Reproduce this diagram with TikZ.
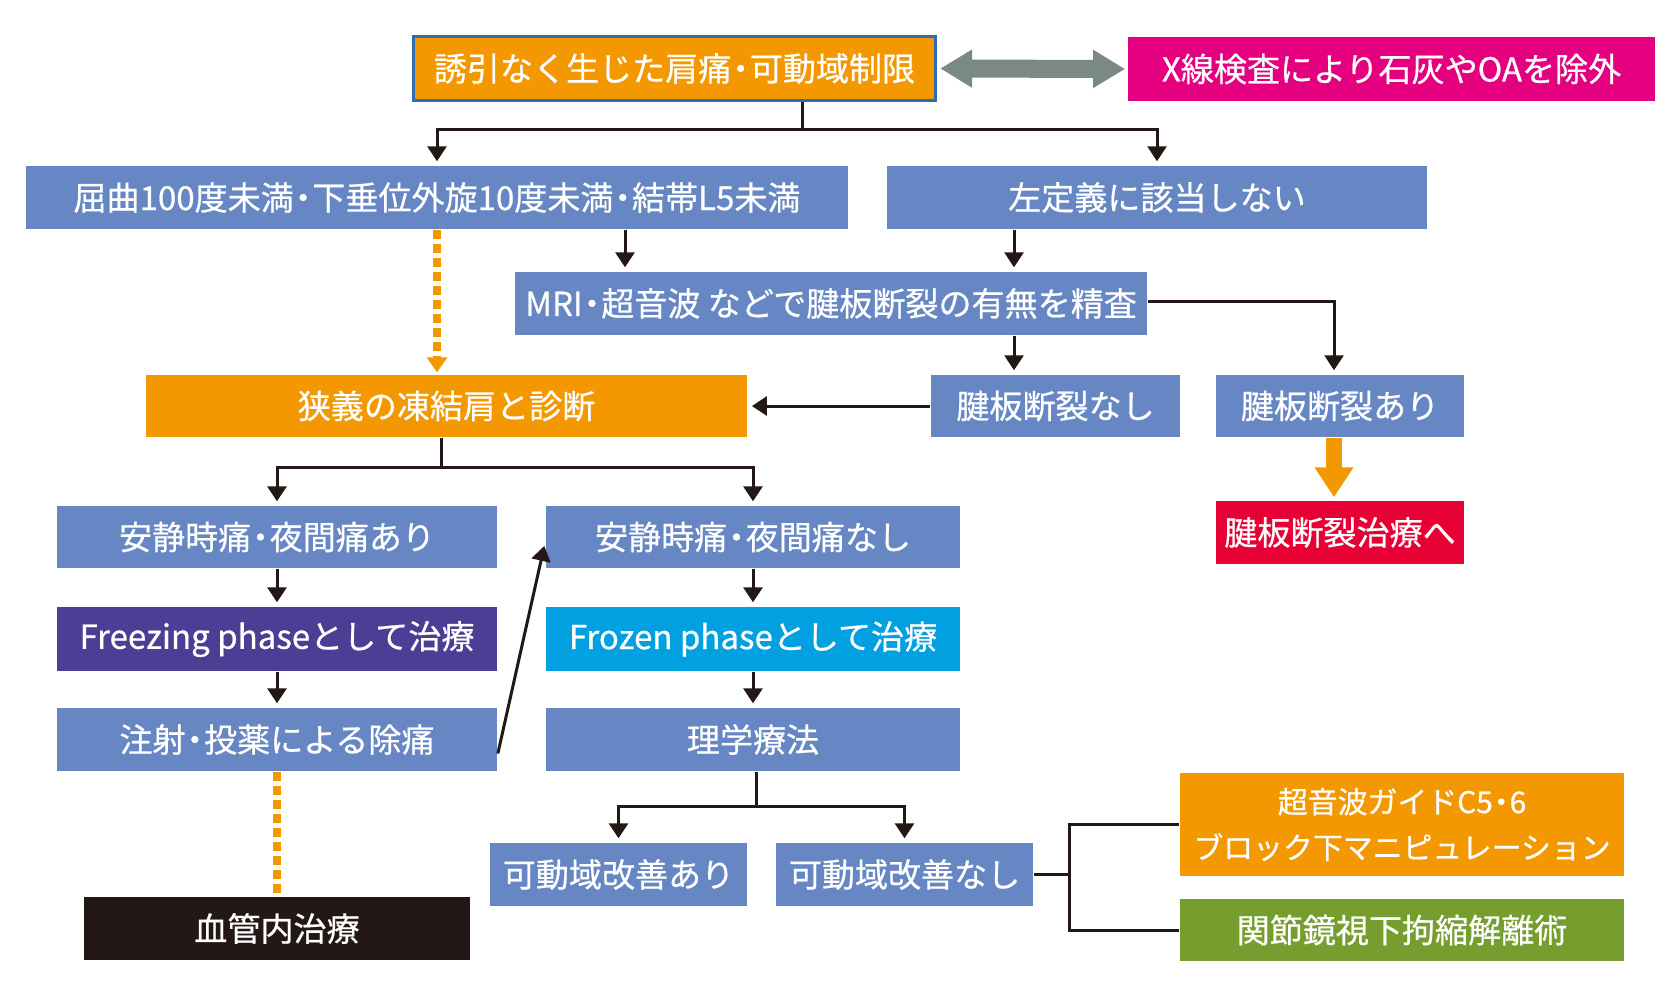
\documentclass[tikz,border=0pt]{standalone}
\usepackage{fontspec}
\usetikzlibrary{arrows.meta,positioning}
\newfontfamily\jpfont[FakeBold=0.6]{Noto Sans CJK JP}
\newcommand{\midot}{\kern-0.22em・\kern-0.22em}

\definecolor{boxblue}{RGB}{102,135,196}
\definecolor{boxorange}{RGB}{243,152,0}
\definecolor{boxmagenta}{RGB}{228,0,127}
\definecolor{boxred}{RGB}{230,0,51}
\definecolor{boxpurple}{RGB}{74,63,148}
\definecolor{boxcyan}{RGB}{0,160,225}
\definecolor{boxgreen}{RGB}{118,158,46}
\definecolor{boxblack}{RGB}{35,24,21}
\definecolor{framblue}{RGB}{46,109,180}
\definecolor{arrowgray}{RGB}{122,136,134}
\definecolor{linek}{RGB}{35,24,21}

\begin{document}
\begin{tikzpicture}[x=0.01cm, y=-0.01cm,
					>={Triangle[length=1.5mm,width=1.9mm]},
					flow line/.style={draw=linek,line width=0.03cm},
					flow arrow/.style={flow line,->,shorten >=0.04cm},
					main node/.style={rectangle,inner sep=0pt,text=white,
						font=\jpfont\fontsize{9.4pt}{11.8pt}\selectfont,
						minimum height=0.63cm},
					blue node/.style={main node,fill=boxblue},
					orange dash/.style={draw=boxorange,line width=0.08cm,
						dash pattern=on 0.09cm off 0.05cm}]

  \useasboundingbox (0,0) rectangle (1680,1000);

  % top row
  \node[main node,fill=boxorange,draw=framblue,line width=0.03cm,
        minimum width=5.22cm,minimum height=0.64cm] (O) at (674.5,68.5) {誘引なく生じた肩痛\midot 可動域制限};
  \node[main node,fill=boxmagenta,minimum width=5.27cm,minimum height=0.64cm] (X) at (1391.5,69) {X線検査により石灰やOAを除外};

  % criteria
  \node[blue node,minimum width=8.22cm] (C) at (437,197.5) {屈曲100度未満\midot 下垂位外旋10度未満\midot 結帯L5未満};
  \node[blue node,minimum width=5.40cm] (N) at (1157,197.5) {左定義に該当しない};
  \node[blue node,minimum width=6.32cm] (M) at (831,303.5) {MRI\midot 超音波 などで腱板断裂の有無を精査};

  \node[main node,fill=boxorange,minimum width=6.01cm,minimum height=0.62cm] (F) at (446.5,406) {狭義の凍結肩と診断};
  \node[blue node,minimum width=2.49cm,minimum height=0.62cm] (T0) at (1055.5,406) {腱板断裂なし};
  \node[blue node,minimum width=2.48cm,minimum height=0.62cm] (T1) at (1340,406) {腱板断裂あり};
  \node[main node,fill=boxred,minimum width=2.48cm] (R) at (1340,532.5) {腱板断裂治療へ};

  % left column
  \node[blue node,minimum width=4.40cm,minimum height=0.62cm] (P1) at (277,537) {安静時痛\midot 夜間痛あり};
  \node[main node,fill=boxpurple,minimum width=4.40cm,minimum height=0.64cm] (FZ) at (277,639) {Freezing phaseとして治療};
  \node[blue node,minimum width=4.40cm] (I) at (277,739.5) {注射\midot 投薬による除痛};
  \node[main node,fill=boxblack,minimum width=3.86cm] (E) at (277,928.5) {血管内治療};

  % right column
  \node[blue node,minimum width=4.14cm,minimum height=0.62cm] (P0) at (753,537) {安静時痛\midot 夜間痛なし};
  \node[main node,fill=boxcyan,minimum width=4.14cm,minimum height=0.64cm] (FN) at (753,639) {Frozen phaseとして治療};
  \node[blue node,minimum width=4.14cm] (PT) at (753,739.5) {理学療法};

  \node[blue node,minimum width=2.57cm] (G1) at (618.5,874.5) {可動域改善あり};
  \node[blue node,minimum width=2.57cm] (G0) at (904.5,874.5) {可動域改善なし};
  \node[main node,fill=boxorange,minimum width=4.44cm,minimum height=1.03cm,align=center,
        font=\jpfont\fontsize{8.5pt}{13pt}\selectfont] (U) at (1402,824.5) {超音波ガイドC5\midot 6\\ブロック下マニピュレーション};
  \node[main node,fill=boxgreen,minimum width=4.44cm,minimum height=0.62cm] (A) at (1402,930) {関節鏡視下拘縮解離術};

  % split points
  \coordinate (s1) at (802,129);
  \coordinate (cm) at (625,250);
  \coordinate (nm) at (1014,250);
  \coordinate (tm) at (1334,350);
  \coordinate (s2) at (441,467);
  \coordinate (s3) at (756,806);
  \coordinate (b) at (1069,874.5);

  \draw[draw=arrowgray,line width=0.18cm,
        {Triangle[length=0.32cm,width=0.36cm]}-{Triangle[length=0.32cm,width=0.36cm]},
        shorten <=0.03cm,shorten >=0.02cm] (O.east) -- (X.west);

  \draw[flow line] (s1 |- O.south) -- (s1);
  \draw[flow arrow] (s1) -| (C.north);
  \draw[flow arrow] (s1) -| (N.north);

  \draw[flow arrow] (C.south -| cm) -- (M.north -| cm);
  \draw[flow arrow] (N.south -| nm) -- (M.north -| nm);
  \draw[flow arrow] (M.south -| nm) -- (T0.north -| nm);
  \draw[flow arrow] ([yshift=0.025cm]M.east) -| (T1.north -| tm);
  \draw[flow arrow] (T0.west) -- (F.east);

  \draw[orange dash,-{Triangle[length=0.15cm,width=0.2cm]},shorten >=0.02cm]
    (C.south) -- (C.south |- F.north);

  \draw[draw=boxorange,line width=0.16cm,-{Triangle[length=0.3cm,width=0.37cm]},
        shorten >=0.03cm] (T1.south -| tm) -- (R.north -| tm);

  \draw[flow line] (s2 |- F.south) -- (s2);
  \draw[flow arrow] (s2) -| (P1.north);
  \draw[flow arrow] (s2) -| (P0.north);

  \draw[flow arrow] (P1) -- (FZ);
  \draw[flow arrow] (FZ) -- (I);
  \draw[flow arrow] (P0) -- (FN);
  \draw[flow arrow] (FN) -- (PT);
  \draw[flow arrow] ([yshift=-0.14cm]I.east) -- ([yshift=-0.05cm]P0.west);

  \draw[orange dash] (I.south) -- (E.north);

  \draw[flow line] (s3 |- PT.south) -- (s3);
  \draw[flow arrow] (s3) -| (G1.north);
  \draw[flow arrow] (s3) -| (G0.north);

  \draw[flow line] (G0.east) -- (b);
  \draw[flow line] (U.west) -| (b) |- (A.west);
\end{tikzpicture}
\end{document}
